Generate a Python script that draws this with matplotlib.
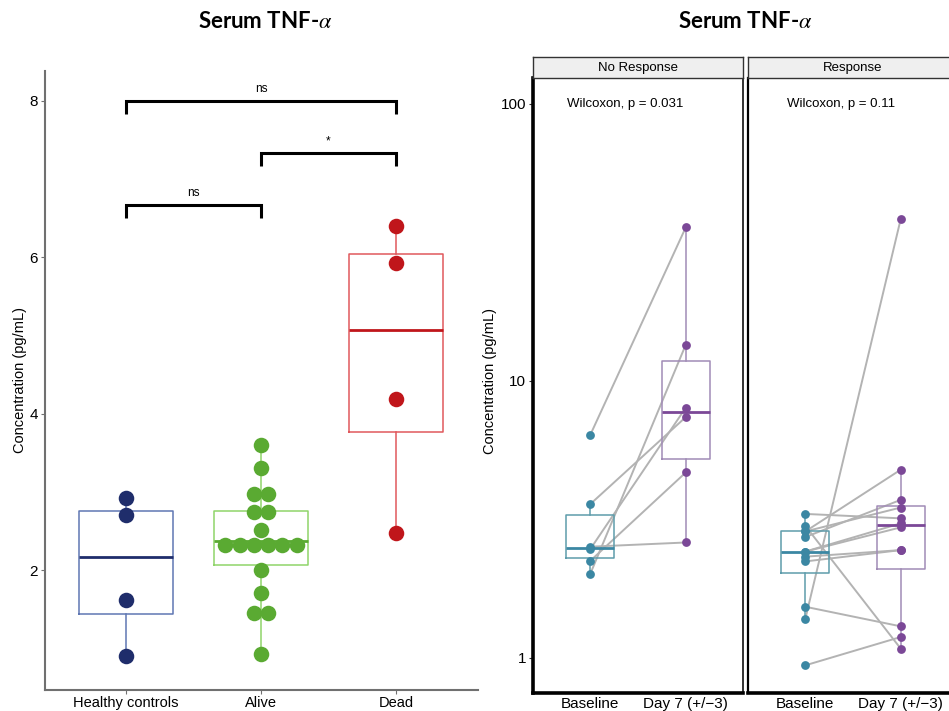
import numpy as np
import matplotlib
matplotlib.use("Agg")
import matplotlib.pyplot as plt
from matplotlib import cbook
from matplotlib.ticker import FixedLocator, NullLocator, FixedFormatter

plt.rcParams['font.family'] = ['Liberation Sans', 'DejaVu Sans']
plt.rcParams['mathtext.fontset'] = 'stix'

# ── left panel data ─────────────────────────────────────
groups = ['Healthy controls', 'Alive', 'Dead']
healthy = [0.91, 1.62, 2.71, 2.92]
alive = [0.93, 1.45, 1.45, 1.71, 2.00, 2.32, 2.32, 2.32, 2.32, 2.32, 2.32,
         2.52, 2.75, 2.75, 2.97, 2.97, 3.31, 3.60]
dead = [2.48, 4.19, 5.93, 6.40]
box_q1 = [1.44, 2.07, 3.77]
box_med = [2.17, 2.38, 5.07]
box_q3 = [2.76, 2.76, 6.04]
box_lo = [0.91, 0.93, 2.48]
box_hi = [2.92, 3.60, 6.40]
dot_colors = ['#1f2d6b', '#5aaa32', '#c0161b']
box_colors = ['#5f77b3', '#8fd46a', '#e0585c']

br_start = [1, 2, 1]
br_end = [3, 3, 2]
br_y = [8.0, 7.33, 6.67]
br_label = ['ns', '*', 'ns']

# ── right panel data ────────────────────────────────────
timepoints = ['Baseline', 'Day 7 (+/\u22123)']
facets = ['No Response', 'Response']
p_text = ['Wilcoxon, p = 0.031', 'Wilcoxon, p = 0.11']
nr_base = [6.38, 3.59, 2.52, 2.47, 2.24, 2.01]
nr_day7 = [35.8, 7.4, 2.61, 8.0, 4.67, 13.5]
r_base = [1.38, 1.53, 0.94, 3.31, 3.00, 2.86, 2.73, 2.86, 2.42, 2.42, 2.32, 2.23]
r_day7 = [38.4, 1.30, 1.19, 3.19, 1.08, 4.78, 3.72, 3.49, 3.06, 2.96, 2.45, 2.45]
tp_colors = ['#3b87a3', '#7b4897']
tp_box_colors = ['#5e9cab', '#a18bb6']

W, H = 949, 711
fig = plt.figure(figsize=(W / 100, H / 100), dpi=100)


def px_axes(x0, y0, x1, y1):
    return fig.add_axes([x0 / W, 1 - y1 / H, (x1 - x0) / W, (y1 - y0) / H])


# ── LEFT: dotplot + boxplot ─────────────────────────────
ax = px_axes(45, 71, 478, 690)
for i in range(3):
    st = dict(med=box_med[i], q1=box_q1[i], q3=box_q3[i],
              whislo=box_lo[i], whishi=box_hi[i], fliers=[])
    ax.bxp([st], positions=[i + 1], widths=0.7, showcaps=False, showfliers=False,
           boxprops=dict(color=box_colors[i], lw=1.1),
           whiskerprops=dict(color=box_colors[i], lw=1.1),
           medianprops=dict(color=dot_colors[i], lw=2.0))

dot_w = 0.106
for i, vals in enumerate([healthy, alive, dead]):
    u, counts = np.unique(vals, return_counts=True)
    for v, k in zip(u, counts):
        xs = i + 1 + (np.arange(k) - (k - 1) / 2) * dot_w
        ax.scatter(xs, [v] * k, s=125, color=dot_colors[i], zorder=3, lw=0)

for a, b, y, lab in zip(br_start, br_end, br_y, br_label):
    ax.plot([a, a, b, b], [y - 0.17, y, y, y - 0.17], color='black', lw=2.2,
            solid_capstyle='butt', solid_joinstyle='miter')
    ax.text((a + b) / 2, y + 0.07, lab, ha='center', va='bottom', fontsize=8.5)

ax.set_xlim(0.4, 3.607)
ax.set_ylim(0.472, 8.38)
ax.set_xticks([1, 2, 3])
ax.set_xticklabels(groups, fontsize=10.5)
ax.set_yticks([2, 4, 6, 8])
ax.tick_params(axis='y', labelsize=11, length=3, color='#707070', pad=2)
ax.tick_params(axis='x', length=3, color='#707070', pad=1)
for s in ['top', 'right']:
    ax.spines[s].set_visible(False)
for s in ['left', 'bottom']:
    ax.spines[s].set_color('#707070')
    ax.spines[s].set_linewidth(1.5)
fig.text(20 / W, 1 - 380 / H, 'Concentration (pg/mL)', rotation=90,
         ha='center', va='center', fontsize=10.5)
fig.text(265 / W, 1 - 22 / H, r'Serum TNF-$\alpha$', ha='center', va='center',
         fontsize=16, fontweight='bold', family=['Lato', 'DejaVu Sans'])

# ── RIGHT: paired facets ────────────────────────────────
fig.text(745 / W, 1 - 22 / H, r'Serum TNF-$\alpha$', ha='center', va='center',
         fontsize=16, fontweight='bold', family=['Lato', 'DejaVu Sans'])
fig.text(490 / W, 1 - 381 / H, 'Concentration (pg/mL)', rotation=90,
         ha='center', va='center', fontsize=10.5)

panel_x = [(533, 743), (748, 958)]
for j, (base, day7) in enumerate([(nr_base, nr_day7), (r_base, r_day7)]):
    x0, x1 = panel_x[j]
    pa = px_axes(x0, 78, x1, 693)
    pa.set_yscale('log')
    for b, d in zip(base, day7):
        pa.plot([1, 2], [b, d], color='#b3b3b3', lw=1.4, zorder=2)
    for k, vals in enumerate([base, day7]):
        st = cbook.boxplot_stats(np.log10(vals), whis=1.5)[0]
        st = dict(med=10 ** st['med'], q1=10 ** st['q1'], q3=10 ** st['q3'],
                  whislo=10 ** st['whislo'], whishi=10 ** st['whishi'], fliers=[])
        pa.bxp([st], positions=[k + 1], widths=0.5, showcaps=False, showfliers=False,
               boxprops=dict(color=tp_box_colors[k], lw=1.1),
               whiskerprops=dict(color=tp_box_colors[k], lw=1.1),
               medianprops=dict(color=tp_colors[k], lw=2.0))
        pa.scatter([k + 1] * len(vals), vals, s=40, color=tp_colors[k], zorder=3, lw=0)
    pa.set_xlim(0.4, 2.6)
    pa.set_ylim(0.747, 124)
    pa.set_xticks([1, 2])
    pa.set_xticklabels(timepoints, fontsize=11)
    pa.tick_params(axis='x', length=0, pad=3)
    pa.yaxis.set_minor_locator(NullLocator())
    if j == 0:
        pa.yaxis.set_major_locator(FixedLocator([1, 10, 100]))
        pa.yaxis.set_major_formatter(FixedFormatter(['1', '10', '100']))
        pa.tick_params(axis='y', labelsize=11, length=3, color='#333333', pad=2)
    else:
        pa.set_yticks([])
        pa.yaxis.set_minor_locator(NullLocator())
    for s in pa.spines.values():
        s.set_color('#222222')
        s.set_linewidth(1.3)
    pa.spines['bottom'].set_color('black')
    pa.spines['bottom'].set_linewidth(2.6)
    pa.spines['left'].set_color('black')
    pa.spines['left'].set_linewidth(2.6 if j == 0 else 1.6)
    pa.text(1.37, 100, p_text[j], ha='center', va='center', fontsize=9.5)

    sa = px_axes(x0, 57, x1, 78)
    sa.set_facecolor('#efefef')
    sa.set_xticks([])
    sa.set_yticks([])
    for s in sa.spines.values():
        s.set_color('#333333')
        s.set_linewidth(1.0)
    sa.text(0.5, 0.5, facets[j], transform=sa.transAxes, ha='center', va='center',
            fontsize=9.5)

fig.savefig('out.png', dpi=100)
